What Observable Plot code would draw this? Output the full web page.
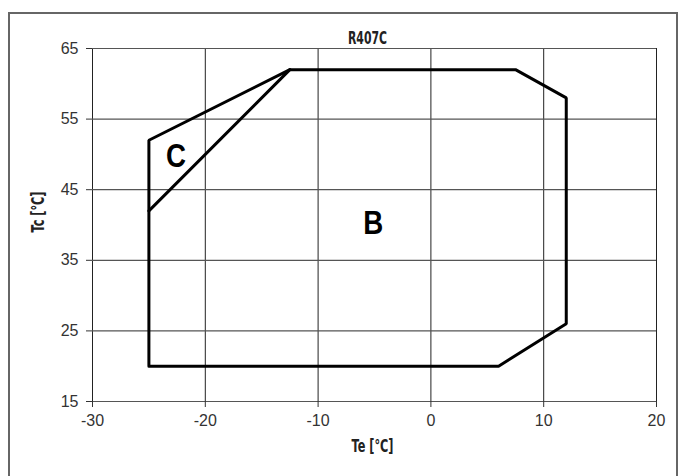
<!DOCTYPE html>
<html>
<head>
<meta charset="utf-8">
<script src="https://cdn.jsdelivr.net/npm/d3@7"></script>
<script src="https://cdn.jsdelivr.net/npm/@observablehq/plot@0.6"></script>
<style>
  html, body { margin: 0; padding: 0; background: #fff; }
  #chart { position: relative; width: 683px; height: 476px; }
</style>
</head>
<body>
<div id="chart"></div>
<script>
const title = "R407C";
const xLabel = "Te [°C]";
const yLabel = "Tc [°C]";
const xTicks = [-30, -20, -10, 0, 10, 20];
const yTicks = [15, 25, 35, 45, 55, 65];

// envelope outline (Te, Tc)
const outlineTe = [-25, 6, 12, 12, 7.5, -12.5, -25, -25];
const outlineTc = [20, 20, 26, 58, 62, 62, 52, 20];
// divider between region C and B
const dividerTe = [-25, -12.5];
const dividerTc = [42, 62];
// region labels
const regionNames = ["B", "C"];
const regionTe = [-5.1, -22.6];
const regionTc = [40.3, 49.8];

const outline = outlineTe.map((x, i) => ({x, y: outlineTc[i]}));
const divider = dividerTe.map((x, i) => ({x, y: dividerTc[i]}));
const regions = regionNames.map((name, i) => ({name, x: regionTe[i], y: regionTc[i]}));

const boldFont = "'DejaVu Sans', sans-serif";
const fmt = d => String(d);

const plot = Plot.plot({
  width: 683,
  height: 476,
  marginLeft: 92,
  marginRight: 27,
  marginTop: 48,
  marginBottom: 75,
  x: {domain: [-30, 20]},
  y: {domain: [15, 65]},
  style: {fontSize: "16px", color: "#333", fontFamily: "'Liberation Sans', Arial, sans-serif"},
  marks: [
    Plot.gridX(xTicks, {stroke: "#222", strokeOpacity: 1, strokeWidth: 1}),
    Plot.gridY(yTicks, {stroke: "#555", strokeOpacity: 1, strokeWidth: 1.2}),
    Plot.axisX(xTicks, {tickSize: 6, tickPadding: 7, fontSize: 16, tickFormat: fmt, label: null, stroke: "#333", fill: "#333", className: "tickx"}),
    Plot.axisY(yTicks, {tickSize: 6, tickPadding: 8, fontSize: 16, tickFormat: fmt, label: null, stroke: "#333", fill: "#333", className: "ticky"}),
    Plot.line(outline, {x: "x", y: "y", stroke: "#000", strokeWidth: 3, strokeLinejoin: "miter"}),
    Plot.line(divider, {x: "x", y: "y", stroke: "#000", strokeWidth: 3}),
    Plot.text(regions, {x: "x", y: "y", text: "name", fontSize: 34, fontWeight: "bold", fill: "#000", fontFamily: "'Liberation Sans', Arial, sans-serif", className: "region"}),
    Plot.text([title], {frameAnchor: "top", dx: -7, dy: -17, text: d => d, fontSize: 17, fontWeight: "bold", fill: "#222", fontFamily: boldFont, className: "ttl"}),
    Plot.text([xLabel], {frameAnchor: "bottom", dx: -2, dy: 50, text: d => d, fontSize: 17, fontWeight: "bold", fill: "#222", fontFamily: boldFont, className: "xlab"}),
    Plot.text([yLabel], {frameAnchor: "left", dx: -53.5, dy: 7.5, rotate: -90, text: d => d, fontSize: 17, fontWeight: "bold", fill: "#222", fontFamily: boldFont, className: "ylab"})
  ]
});

const svg = d3.select(plot);
// enforce tick-label font
svg.selectAll(".tickx text, .ticky text")
  .attr("font-size", 16)
  .attr("font-family", "'Liberation Sans', Arial, sans-serif")
  .style("font-size", "16px");
// condensed look for bold labels
svg.selectAll(".ttl text").attr("textLength", 39).attr("lengthAdjust", "spacingAndGlyphs");
svg.selectAll(".xlab text").attr("textLength", 42).attr("lengthAdjust", "spacingAndGlyphs");
svg.selectAll(".ylab text").attr("textLength", 41).attr("lengthAdjust", "spacingAndGlyphs");
svg.selectAll(".region text").attr("textLength", 20).attr("lengthAdjust", "spacingAndGlyphs");

// outer border (decoration)
svg.append("rect")
  .attr("x", 9).attr("y", 13).attr("width", 668).attr("height", 470)
  .attr("fill", "none").attr("stroke", "#666").attr("stroke-width", 2);

document.getElementById("chart").appendChild(plot);
</script>
</body>
</html>
